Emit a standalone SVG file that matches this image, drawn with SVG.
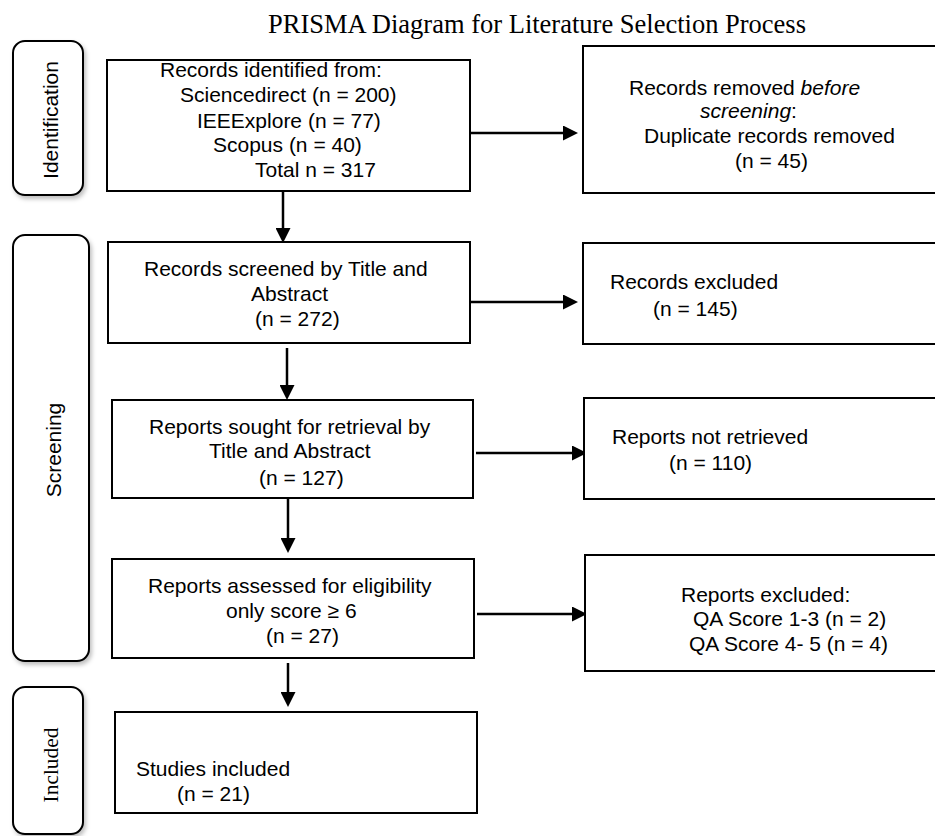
<svg xmlns="http://www.w3.org/2000/svg" width="935" height="836" viewBox="0 0 935 836">
<style>
  .box { fill: #fff; stroke: #000; stroke-width: 2; }
  .lane { fill: #fff; stroke: #000; stroke-width: 2; filter: url(#sh); }
  .t { font-family: "Liberation Sans", Arial, sans-serif; font-size: 21px; fill: #000; }
  .ts { font-family: "Liberation Serif", "Times New Roman", serif; fill: #000; }
  .arr { stroke: #000; stroke-width: 2.5; fill: none; marker-end: url(#ah); }
</style>
<defs>
  <marker id="ah" markerUnits="userSpaceOnUse" markerWidth="15" markerHeight="15" viewBox="0 0 15 15" refX="3" refY="7.5" orient="auto">
    <path d="M0,0 L15,7.5 L0,15 Z" fill="#000"/>
  </marker>
  <filter id="sh" x="-20%" y="-20%" width="150%" height="150%">
    <feDropShadow dx="2" dy="3" stdDeviation="2" flood-color="#000" flood-opacity="0.25"/>
  </filter>
</defs>
<rect width="935" height="836" fill="#fff"/>

<text id="title" class="ts" x="268" y="33" font-size="26.5">PRISMA Diagram for Literature Selection Process</text>

<g id="lane-identification">
  <rect class="lane" x="13" y="41" width="70" height="154" rx="12"/>
  <text class="t" transform="translate(58,120) rotate(-90)" text-anchor="middle">Identification</text>
</g>
<g id="lane-screening">
  <rect class="lane" x="13" y="235" width="76" height="426" rx="12"/>
  <text class="t" transform="translate(61,450) rotate(-90)" text-anchor="middle">Screening</text>
</g>
<g id="lane-included">
  <rect class="lane" x="13" y="687" width="70" height="147" rx="12"/>
  <text class="ts" font-size="21.4" transform="translate(58,765) rotate(-90)" text-anchor="middle">Included</text>
</g>

<g id="connectors">
  <line class="arr" x1="283" y1="189" x2="283" y2="231"/>
  <line class="arr" x1="470" y1="133" x2="566" y2="133"/>
  <line class="arr" x1="287" y1="348" x2="287" y2="388"/>
  <line class="arr" x1="470" y1="302" x2="566" y2="302"/>
  <line class="arr" x1="288" y1="498" x2="288" y2="541"/>
  <line class="arr" x1="476" y1="453" x2="575" y2="453"/>
  <line class="arr" x1="477" y1="614" x2="575" y2="614"/>
  <line class="arr" x1="288" y1="663" x2="288" y2="695"/>
</g>

<g id="identified">
  <rect class="box" x="107" y="60" width="363" height="131"/>
  <text class="t" x="160" y="77">Records identified from:</text>
  <text class="t" x="180" y="102">Sciencedirect (n = 200)</text>
  <text class="t" x="197" y="128">IEEExplore (n = 77)</text>
  <text class="t" x="213" y="152">Scopus (n = 40)</text>
  <text class="t" x="255" y="177">Total n = 317</text>
</g>
<g id="removed">
  <rect class="box" x="583" y="46" width="362" height="147"/>
  <text class="t" x="629" y="95">Records removed <tspan font-style="italic">before</tspan></text>
  <text class="t" x="700" y="118"><tspan font-style="italic">screening</tspan>:</text>
  <text class="t" x="644" y="143">Duplicate records removed</text>
  <text class="t" x="735" y="168">(n = 45)</text>
</g>
<g id="screened">
  <rect class="box" x="108" y="242" width="362" height="101"/>
  <text class="t" x="144" y="276">Records screened by Title and</text>
  <text class="t" x="251" y="301">Abstract</text>
  <text class="t" x="255" y="326">(n = 272)</text>
</g>
<g id="excluded">
  <rect class="box" x="583" y="243" width="362" height="101"/>
  <text class="t" x="610" y="289">Records excluded</text>
  <text class="t" x="653" y="316">(n = 145)</text>
</g>
<g id="sought">
  <rect class="box" x="112" y="400" width="361" height="98"/>
  <text class="t" x="149" y="434">Reports sought for retrieval by</text>
  <text class="t" x="209" y="458">Title and Abstract</text>
  <text class="t" x="259" y="485">(n = 127)</text>
</g>
<g id="not-retrieved">
  <rect class="box" x="584" y="398" width="362" height="101"/>
  <text class="t" x="612" y="444">Reports not retrieved</text>
  <text class="t" x="669" y="470">(n = 110)</text>
</g>
<g id="assessed">
  <rect class="box" x="112" y="559" width="362" height="99"/>
  <text class="t" x="148" y="593">Reports assessed for eligibility</text>
  <text class="t" x="226" y="618">only score ≥ 6</text>
  <text class="t" x="266" y="643">(n = 27)</text>
</g>
<g id="reports-excluded">
  <rect class="box" x="585" y="555" width="362" height="116"/>
  <text class="t" x="681" y="602">Reports excluded:</text>
  <text class="t" x="693" y="626">QA Score 1-3 (n = 2)</text>
  <text class="t" x="689" y="651">QA Score 4- 5 (n = 4)</text>
</g>
<g id="included">
  <rect class="box" x="115" y="712" width="362" height="101"/>
  <text class="t" x="136" y="776">Studies included</text>
  <text class="t" x="177" y="801">(n = 21)</text>
</g>
</svg>
